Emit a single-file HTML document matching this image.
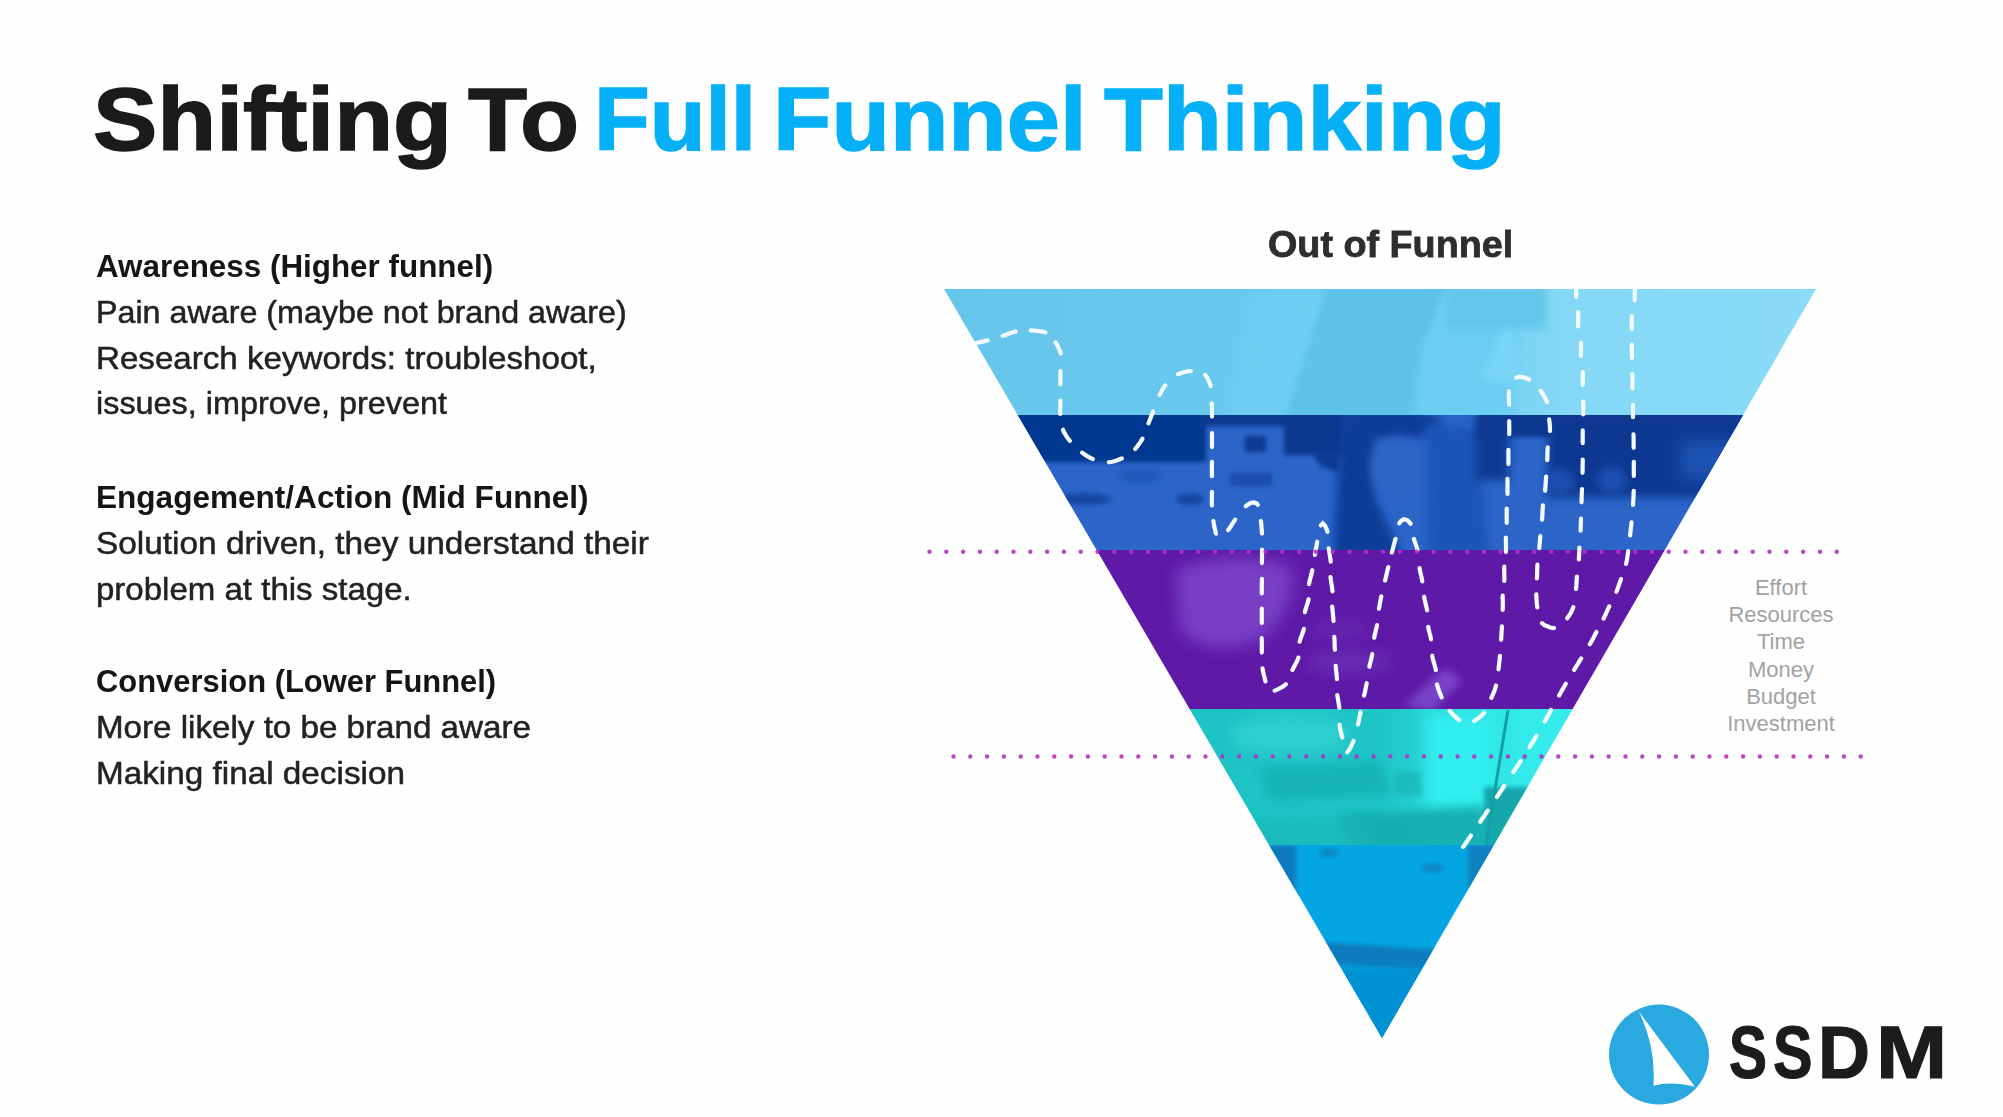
<!DOCTYPE html>
<html><head><meta charset="utf-8">
<style>
html,body{margin:0;padding:0;}
body{width:2003px;height:1117px;overflow:hidden;background:#fefefe;position:relative;font-family:"Liberation Sans",sans-serif;}
.t{position:absolute;white-space:nowrap;line-height:1;transform-origin:0 0;}
.title{font-weight:bold;font-size:89px;top:75px;color:#1b1b1b;-webkit-text-stroke:1.5px #1b1b1b;}
.blue{color:#06b0f7;-webkit-text-stroke:1.5px #06b0f7;}
.h{font-weight:bold;font-size:32px;color:#151515;}
.p{font-size:32px;color:#222;-webkit-text-stroke:0.5px #222;}
.side{position:absolute;left:1681px;width:200px;text-align:center;font-size:22px;line-height:27.2px;color:#a2a2a2;top:574px;}
svg{position:absolute;left:0;top:0;}
.ssdm{top:1015px;font-weight:bold;font-size:75px;color:#1c1c1c;-webkit-text-stroke:1.2px #1c1c1c;}
</style></head>
<body>
<div class="t title" style="left:92.5px;transform:scaleX(1.084);">Shifting</div>
<div class="t title" style="left:468px;transform:scaleX(1.087);">To</div>
<div class="t title blue" style="left:594px;transform:scaleX(1.025);">Full</div>
<div class="t title blue" style="left:773px;transform:scaleX(1.075);">Funnel</div>
<div class="t title blue" style="left:1104px;transform:scaleX(1.083);">Thinking</div>

<div class="t h" style="left:96px;top:250px;transform:scaleX(0.981);">Awareness (Higher funnel)</div>
<div class="t p" style="left:96px;top:296px;transform:scaleX(1.008);">Pain aware (maybe not brand aware)</div>
<div class="t p" style="left:96px;top:342px;transform:scaleX(1.035);">Research keywords: troubleshoot,</div>
<div class="t p" style="left:96px;top:387px;transform:scaleX(1.012);">issues, improve, prevent</div>
<div class="t h" style="left:96px;top:481px;transform:scaleX(0.986);">Engagement/Action (Mid Funnel)</div>
<div class="t p" style="left:96px;top:527px;transform:scaleX(1.043);">Solution driven, they understand their</div>
<div class="t p" style="left:96px;top:573px;transform:scaleX(1.032);">problem at this stage.</div>
<div class="t h" style="left:96px;top:665px;transform:scaleX(0.966);">Conversion (Lower Funnel)</div>
<div class="t p" style="left:96px;top:711px;transform:scaleX(1.036);">More likely to be brand aware</div>
<div class="t p" style="left:96px;top:757px;transform:scaleX(1.04);">Making final decision</div>

<div class="t" style="left:1268px;top:226px;font-weight:bold;font-size:37px;color:#2e2e2e;-webkit-text-stroke:0.8px #2e2e2e;transform:scaleX(1.02);">Out of Funnel</div>

<div class="side">Effort<br>Resources<br>Time<br>Money<br>Budget<br>Investment</div>

<svg width="2003" height="1117" viewBox="0 0 2003 1117">
  <defs>
    <clipPath id="tri"><polygon points="944,289 1816,289 1382,1038"/></clipPath>
    <clipPath id="b1"><rect x="900" y="289" width="950" height="126"/></clipPath>
    <clipPath id="b2"><rect x="900" y="415" width="950" height="135"/></clipPath>
    <clipPath id="b3"><rect x="900" y="550" width="950" height="159"/></clipPath>
    <clipPath id="b4"><rect x="900" y="709" width="950" height="136"/></clipPath>
    <clipPath id="b5"><rect x="900" y="845" width="950" height="200"/></clipPath>
    <filter id="bl4" x="-50%" y="-50%" width="200%" height="200%"><feGaussianBlur stdDeviation="4"/></filter>
    <filter id="bl8" x="-50%" y="-50%" width="200%" height="200%"><feGaussianBlur stdDeviation="8"/></filter>
    <filter id="bl2" x="-50%" y="-50%" width="200%" height="200%"><feGaussianBlur stdDeviation="2"/></filter>
    <linearGradient id="g1" x1="0" x2="1" y1="0" y2="0">
      <stop offset="0" stop-color="#66c5ea"/><stop offset="0.55" stop-color="#6acaee"/><stop offset="0.7" stop-color="#84d8f6"/><stop offset="1" stop-color="#8adcf8"/>
    </linearGradient>
    <linearGradient id="g4" x1="0" x2="1" y1="0" y2="0">
      <stop offset="0" stop-color="#1cc0c2"/><stop offset="0.5" stop-color="#1ec4c6"/><stop offset="0.58" stop-color="#2ad8da"/><stop offset="0.66" stop-color="#34eaea"/><stop offset="1" stop-color="#34eaea"/>
    </linearGradient>
  </defs>
  <g clip-path="url(#tri)">
    <!-- band 1 light blue -->
    <g clip-path="url(#b1)">
      <rect x="900" y="289" width="950" height="126" fill="url(#g1)"/>
      <polygon points="1250,289 1330,289 1288,415 1225,415" fill="#72cff2" filter="url(#bl8)" opacity="0.7"/>
      <polygon points="1328,287 1446,287 1422,352 1420,417 1286,417" fill="#5ec2e8" filter="url(#bl2)"/>
      <polygon points="1422,352 1446,300 1520,300 1514,417 1412,417" fill="#6ccdf0" filter="url(#bl4)"/>
      <polygon points="1482,378 1512,305 1518,385" fill="#7ad6f6" filter="url(#bl4)"/>
      <rect x="1446" y="287" width="100" height="42" fill="#62c6ea" filter="url(#bl4)"/>
    </g>
    <!-- band 2 dark blue -->
    <g clip-path="url(#b2)">
      <rect x="900" y="415" width="950" height="135" fill="#2c64c8"/>
      <rect x="990" y="410" width="216" height="52" fill="#06378f" filter="url(#bl2)"/>
      <rect x="1200" y="410" width="90" height="16" fill="#08388f" filter="url(#bl2)"/>
      <rect x="1245" y="436" width="21" height="16" fill="#0a3a94" filter="url(#bl2)"/>
      <rect x="1284" y="410" width="60" height="45" fill="#08388f" filter="url(#bl2)"/>
      <polygon points="1312,452 1342,452 1338,472 1320,466" fill="#0a3a94" filter="url(#bl2)"/>
      <rect x="1230" y="473" width="42" height="13" fill="#1c4eae" filter="url(#bl2)"/>
      <ellipse cx="1085" cy="499" rx="26" ry="6" fill="#1446a4" filter="url(#bl2)"/>
      <ellipse cx="1190" cy="499" rx="14" ry="6" fill="#1446a4" filter="url(#bl2)"/>
      <rect x="1120" y="470" width="40" height="12" fill="#2458bb" filter="url(#bl2)"/>
      <polygon points="1340,412 1374,412 1374,495 1402,556 1334,556" fill="#0c3c9a" filter="url(#bl4)"/>
      <ellipse cx="1392" cy="424" rx="50" ry="16" fill="#0c3c9a" filter="url(#bl4)"/>
      <ellipse cx="1398" cy="467" rx="27" ry="31" fill="#2d63c6" filter="url(#bl4)"/>
      <polygon points="1426,423 1480,430 1488,556 1428,556" fill="#1f55b8" filter="url(#bl4)"/>
      <rect x="1478" y="410" width="270" height="27" fill="#08388f" filter="url(#bl2)"/>
      <rect x="1475" y="416" width="34" height="64" fill="#0a3a94" filter="url(#bl4)"/>
      <rect x="1548" y="413" width="200" height="84" fill="#083891" filter="url(#bl4)"/>
      <ellipse cx="1560" cy="482" rx="14" ry="13" fill="#1c50b2" filter="url(#bl4)"/>
      <ellipse cx="1612" cy="480" rx="14" ry="13" fill="#1c50b2" filter="url(#bl4)"/>
      <rect x="1680" y="440" width="60" height="40" fill="#1c52b4" filter="url(#bl8)"/>
    </g>
    <!-- band 3 purple -->
    <g clip-path="url(#b3)">
      <rect x="900" y="550" width="950" height="159" fill="#5e19a7"/>
      <path d="M1175,570 Q1230,548 1290,565 Q1300,610 1260,640 Q1210,660 1180,630 Z" fill="#7842c6" filter="url(#bl8)" opacity="0.95"/>
      <polygon points="1405,705 1445,668 1462,680 1432,712" fill="#8050d0" filter="url(#bl4)" opacity="0.8"/>
      <ellipse cx="1350" cy="662" rx="45" ry="10" fill="#6c34b8" filter="url(#bl8)" opacity="0.8"/>
      <ellipse cx="1340" cy="630" rx="30" ry="8" fill="#6c34b8" filter="url(#bl8)" opacity="0.6"/>
    </g>
    <!-- band 4 teal -->
    <g clip-path="url(#b4)">
      <rect x="900" y="709" width="950" height="136" fill="url(#g4)"/>
      <ellipse cx="1290" cy="735" rx="60" ry="20" fill="#34d2d4" filter="url(#bl8)" opacity="0.8"/>
      <rect x="1425" y="711" width="70" height="100" fill="#32eeee" filter="url(#bl8)"/>
      <polygon points="1260,768 1380,762 1392,795 1270,800" fill="#18b0b2" filter="url(#bl4)" opacity="0.8"/>
      <polygon points="1395,770 1420,772 1422,795 1395,795" fill="#1ab8ba" filter="url(#bl2)" opacity="0.8"/>
      <polygon points="1338,815 1484,806 1490,850 1350,850" fill="#16acae" filter="url(#bl4)" opacity="0.9"/>
      <rect x="1150" y="822" width="220" height="30" fill="#1db6b8" filter="url(#bl8)" opacity="0.7"/>
      <rect x="1484" y="787" width="60" height="62" fill="#14a4aa" filter="url(#bl2)" opacity="0.95"/>
      <line x1="1508" y1="710" x2="1486" y2="845" stroke="#10a0a6" stroke-width="3"/>
    </g>
    <!-- band 5 blue -->
    <g clip-path="url(#b5)">
      <rect x="900" y="845" width="950" height="200" fill="#04a6e2"/>
      <rect x="1240" y="845" width="56" height="50" fill="#0a7abd" filter="url(#bl2)"/>
      <rect x="1468" y="845" width="60" height="50" fill="#0a80c2" filter="url(#bl2)"/>
      <polygon points="1320,942 1440,950 1440,972 1320,964" fill="#0a7cbe" filter="url(#bl2)"/>
      <rect x="1320" y="968" width="120" height="80" fill="#0592d2" filter="url(#bl4)"/>
      <ellipse cx="1329" cy="853" rx="10" ry="4" fill="#0a84c4" filter="url(#bl2)"/>
      <ellipse cx="1433" cy="868" rx="12" ry="4" fill="#0a84c4" filter="url(#bl2)"/>
    </g>
    <!-- dashed path -->
    <path id="dashes" d="M962.0,346.2 L965.0,345.5 L968.1,344.8 L971.2,344.1 L974.3,343.4 L977.3,342.8 L980.3,342.1 L983.4,341.4 L986.5,340.6 L987.5,340.4 M1002.7,335.9 L1005.5,334.9 L1008.5,333.8 L1011.4,332.7 L1014.3,331.8 L1015.7,331.4 M1030.8,330.3 L1033.9,330.5 L1037.1,330.8 L1040.3,331.2 L1043.3,331.8 L1045.3,332.4 M1055.5,342.4 L1057.2,345.1 L1058.6,347.8 L1059.9,350.7 L1060.7,353.4 M1060.4,371.1 L1060.4,374.2 L1060.4,377.2 L1060.4,380.2 L1060.4,383.4 L1060.4,384.4 M1060.4,400.7 L1060.3,403.7 L1060.3,406.8 L1060.2,409.9 L1060.3,412.9 L1060.3,413.9 M1063.0,429.8 L1064.3,432.7 L1065.9,435.3 L1067.6,437.9 L1069.4,440.3 L1069.9,440.9 M1082.1,452.6 L1084.6,454.4 L1087.2,456.1 L1089.8,457.6 L1092.5,458.9 L1092.8,459.0 M1108.9,462.3 L1112.1,461.8 L1115.1,461.0 L1118.0,460.0 L1120.9,458.8 L1121.8,458.4 M1135.2,448.9 L1137.2,446.6 L1139.0,444.1 L1140.7,441.6 L1142.3,438.9 L1142.4,438.7 M1148.5,423.4 L1149.6,420.4 L1150.8,417.4 L1152.0,414.4 L1153.0,411.7 M1159.7,394.9 L1161.1,392.1 L1162.6,389.3 L1164.3,386.7 L1165.3,385.4 M1178.0,374.2 L1180.8,373.1 L1183.9,372.2 L1186.9,371.5 L1189.9,371.2 L1190.7,371.1 M1205.2,374.9 L1207.1,377.4 L1208.5,380.1 L1209.7,383.1 L1210.6,386.2 M1211.7,403.4 L1211.9,406.4 L1211.9,409.5 L1212.0,412.7 L1212.0,416.1 L1212.0,416.6 M1212.0,433.0 L1212.0,436.1 L1212.0,439.4 L1212.0,442.5 L1212.0,445.7 L1212.0,447.1 M1212.0,461.9 L1211.9,465.2 L1211.9,468.3 L1211.9,471.4 L1211.9,474.6 L1211.9,476.2 M1211.9,491.9 L1211.9,495.3 L1211.9,498.6 L1211.8,501.7 L1211.8,504.8 L1211.9,505.4 M1213.4,521.1 L1213.9,524.1 L1214.4,527.1 L1215.1,530.1 L1215.8,533.1 L1216.0,533.7 M1228.2,530.0 L1230.0,527.5 L1231.6,525.0 L1233.3,522.3 L1235.1,519.6 M1245.8,506.2 L1248.2,504.3 L1251.0,502.9 L1254.1,502.5 L1256.8,503.6 L1257.8,504.8 M1260.9,521.1 L1261.3,524.1 L1261.5,527.2 L1261.8,530.2 L1261.9,533.2 L1262.0,533.5 M1262.0,549.7 L1262.0,552.8 L1262.0,555.9 L1262.0,559.0 L1261.9,562.1 L1261.9,563.1 M1261.9,578.9 L1261.9,582.0 L1261.8,585.1 L1261.8,588.2 L1261.8,591.2 L1261.8,593.4 M1261.8,608.5 L1261.8,611.5 L1261.8,614.6 L1261.8,617.7 L1261.8,620.8 L1261.8,623.0 M1261.7,638.2 L1261.8,641.4 L1261.8,644.4 L1261.8,647.5 L1261.8,650.6 L1261.8,652.6 M1262.5,668.4 L1263.1,671.5 L1263.7,674.5 L1264.5,677.6 L1265.3,680.6 L1265.5,681.3 M1274.7,690.6 L1277.7,689.4 L1280.5,688.0 L1283.2,686.4 L1285.7,684.5 L1285.9,684.3 M1292.4,669.9 L1293.8,667.3 L1295.3,664.5 L1296.7,661.8 L1297.9,659.0 L1298.4,657.6 M1299.6,641.7 L1300.5,638.5 L1301.6,635.7 L1302.7,632.7 L1303.7,629.8 L1303.9,628.9 M1304.9,612.1 L1305.6,609.2 L1306.6,606.2 L1307.5,603.3 L1308.4,600.2 L1308.6,599.2 M1309.0,584.1 L1309.6,580.9 L1310.4,577.9 L1311.2,574.9 L1311.9,571.9 L1312.3,570.2 M1314.9,555.0 L1315.4,551.8 L1315.9,548.7 L1316.5,545.7 L1317.0,542.7 L1317.2,541.7 M1320.9,525.4 L1322.8,523.3 L1324.9,525.4 L1326.3,528.3 L1327.3,531.2 L1327.5,531.8 M1328.7,548.4 L1329.2,551.4 L1329.7,554.5 L1330.2,557.6 L1330.6,560.5 L1330.7,561.7 M1330.5,577.0 L1330.9,580.3 L1331.4,583.4 L1331.9,586.5 L1332.3,589.6 L1332.5,591.3 M1332.2,606.6 L1332.5,609.8 L1332.8,612.9 L1333.1,616.1 L1333.4,619.1 L1333.5,620.8 M1334.3,636.9 L1334.5,639.9 L1334.6,642.9 L1334.7,646.0 L1334.8,649.0 L1334.9,649.7 M1335.7,665.8 L1335.9,668.8 L1336.3,671.9 L1336.6,675.0 L1336.9,678.0 L1336.9,679.2 M1337.3,695.0 L1337.8,698.2 L1338.3,701.2 L1338.8,704.2 L1339.3,707.3 L1339.3,707.8 M1339.5,724.7 L1340.0,727.7 L1340.6,730.7 L1341.3,733.6 L1342.0,736.6 L1342.3,737.5 M1347.2,752.3 L1349.2,749.8 L1350.7,747.0 L1352.1,744.1 L1353.4,741.3 L1353.5,741.0 M1358.0,724.4 L1358.7,721.4 L1359.3,718.4 L1359.9,715.5 L1360.5,712.5 L1360.6,712.0 M1364.1,695.6 L1364.8,692.6 L1365.4,689.7 L1366.0,686.7 L1366.6,683.7 L1366.7,683.2 M1369.4,666.7 L1370.0,663.8 L1370.8,660.8 L1371.5,657.9 L1372.1,654.9 L1372.2,654.2 M1374.2,637.7 L1374.8,634.8 L1375.5,631.8 L1376.2,628.9 L1376.9,625.9 L1377.0,625.2 M1379.0,608.7 L1379.5,605.7 L1380.0,602.7 L1380.6,599.7 L1381.2,596.7 L1381.3,596.5 M1385.1,580.4 L1385.8,577.5 L1386.5,574.5 L1387.2,571.5 L1387.9,568.5 L1388.3,567.1 M1391.9,552.4 L1392.7,549.3 L1393.5,546.3 L1394.3,543.3 L1395.1,540.4 L1395.5,538.9 M1399.3,523.3 L1401.1,520.9 L1403.8,519.3 L1406.8,519.9 L1409.2,522.0 L1410.5,523.8 M1413.9,539.0 L1414.9,542.0 L1416.0,545.0 L1416.9,547.9 L1417.4,549.8 M1419.6,568.1 L1420.1,571.2 L1420.8,574.1 L1421.5,577.1 L1422.1,580.2 L1422.3,581.4 M1424.1,596.7 L1424.7,599.9 L1425.4,602.9 L1426.2,605.9 L1426.8,608.9 L1427.1,610.3 M1428.2,626.8 L1428.8,629.7 L1429.5,632.7 L1430.3,635.6 L1430.9,638.6 L1431.0,639.3 M1432.2,655.7 L1432.8,658.7 L1433.6,661.7 L1434.5,664.7 L1435.3,667.7 L1435.8,670.0 M1437.0,684.4 L1437.9,687.5 L1438.9,690.5 L1440.0,693.4 L1441.2,696.3 L1441.7,697.4 M1449.7,710.9 L1451.8,713.2 L1454.0,715.4 L1456.3,717.6 L1458.7,719.6 L1459.2,720.0 M1474.3,721.0 L1476.8,719.3 L1479.4,717.4 L1481.7,715.4 L1483.9,713.1 L1484.3,712.7 M1491.4,697.9 L1492.6,695.1 L1493.9,692.3 L1495.0,689.3 L1495.8,686.1 L1496.0,685.4 M1498.5,669.3 L1498.9,666.1 L1499.2,663.0 L1499.6,659.9 L1499.8,656.9 L1499.9,655.9 M1501.1,639.7 L1501.3,636.6 L1501.5,633.5 L1501.7,630.4 L1501.9,627.4 L1501.9,626.3 M1502.7,610.0 L1502.8,606.8 L1502.8,603.7 L1502.8,600.6 L1502.6,597.5 L1502.7,595.6 M1504.3,580.9 L1504.4,577.7 L1504.3,574.5 L1504.2,571.4 L1504.2,568.3 L1504.3,566.6 M1505.9,551.9 L1506.0,548.7 L1506.0,545.5 L1505.9,542.4 L1505.9,539.3 L1505.9,537.6 M1506.7,522.9 L1506.7,519.7 L1506.7,516.5 L1506.7,513.4 L1506.7,510.3 L1506.7,508.6 M1507.5,493.9 L1507.5,490.7 L1507.5,487.6 L1507.5,484.4 L1507.5,481.2 L1507.5,478.8 M1508.4,464.1 L1508.4,460.9 L1508.4,457.8 L1508.4,454.6 L1508.4,451.6 L1508.4,449.8 M1509.2,434.2 L1509.3,431.0 L1509.3,427.9 L1509.2,424.8 L1509.2,421.7 L1509.2,421.0 M1509.2,404.7 L1509.0,401.7 L1508.8,398.6 L1508.7,395.5 L1508.9,392.3 L1509.0,391.3 M1516.3,377.7 L1519.1,376.7 L1522.1,377.1 L1525.3,377.8 L1528.2,379.1 L1529.0,379.6 M1540.7,390.8 L1542.4,393.2 L1544.0,395.8 L1545.5,398.5 L1546.7,401.3 L1547.0,402.0 M1549.2,419.3 L1549.5,422.3 L1549.8,425.3 L1550.0,428.6 L1550.0,431.1 M1547.7,447.4 L1547.5,450.4 L1547.4,453.4 L1547.4,456.5 L1547.3,459.5 L1547.2,460.0 M1546.1,476.5 L1545.9,479.5 L1545.7,482.6 L1545.5,485.7 L1545.3,488.8 L1545.1,490.7 M1542.9,505.4 L1542.7,508.6 L1542.5,511.7 L1542.4,514.8 L1542.2,517.9 L1542.1,519.6 M1540.3,536.1 L1540.0,539.1 L1539.8,542.3 L1539.5,545.6 L1539.3,548.1 M1537.4,564.7 L1537.3,567.7 L1537.2,570.8 L1537.1,573.9 L1537.0,577.0 L1536.9,578.4 M1536.3,594.3 L1536.4,597.3 L1536.6,600.4 L1536.8,603.5 L1537.2,606.5 L1537.3,607.5 M1542.0,623.2 L1544.3,625.1 L1547.3,626.3 L1550.2,627.5 L1553.4,628.1 L1554.0,628.0 M1567.2,618.2 L1569.1,615.6 L1570.7,613.0 L1572.0,610.3 L1573.2,607.3 L1573.3,607.1 M1576.0,589.0 L1576.3,585.9 L1576.5,582.7 L1576.7,579.5 L1576.9,576.7 M1578.9,559.4 L1579.0,556.3 L1579.2,553.1 L1579.3,549.9 L1579.4,547.6 M1580.6,530.6 L1580.7,527.5 L1580.8,524.3 L1580.9,521.1 L1581.0,518.5 M1581.5,502.3 L1581.6,499.2 L1581.7,496.2 L1581.8,493.1 L1581.9,490.0 L1582.0,489.0 M1582.5,472.8 L1582.6,469.6 L1582.6,466.5 L1582.7,463.5 L1582.7,460.5 L1582.7,459.5 M1582.7,443.2 L1582.7,440.2 L1582.7,437.2 L1582.7,434.1 L1582.7,430.9 L1582.7,430.4 M1583.2,414.5 L1583.3,411.3 L1583.3,408.3 L1583.3,405.2 L1583.2,402.2 L1583.2,401.7 M1582.7,385.0 L1582.7,382.0 L1582.8,378.9 L1582.8,375.9 L1582.8,372.7 L1582.8,372.2 M1580.9,356.0 L1580.8,353.0 L1580.9,349.9 L1581.0,346.8 L1581.0,343.8 L1581.0,342.8 M1578.1,326.4 L1578.1,323.4 L1578.1,320.3 L1578.2,317.2 L1578.3,314.2 L1578.2,312.2 M1576.3,297.0 L1576.2,293.8 L1576.1,290.6 L1576.1,287.4 L1576.0,284.4 L1576.0,281.2 L1576.0,280.0 M1634.6,280.0 L1634.6,283.0 L1634.7,286.2 L1634.8,289.3 L1634.8,292.6 L1634.8,295.8 L1634.7,299.0 L1634.7,300.6 M1631.9,315.8 L1631.8,318.9 L1631.7,322.0 L1631.7,325.0 L1631.7,328.3 L1631.7,329.1 M1631.8,344.5 L1631.8,347.5 L1631.8,350.7 L1631.9,353.8 L1631.9,357.0 L1631.9,357.9 M1632.4,374.1 L1632.4,377.3 L1632.4,380.4 L1632.4,383.5 L1632.4,386.6 L1632.4,388.5 M1633.0,404.9 L1633.0,408.1 L1633.0,411.4 L1633.0,414.4 L1633.0,417.2 M1633.5,434.3 L1633.6,437.5 L1633.6,440.7 L1633.6,443.7 L1633.6,446.9 L1633.7,447.7 M1633.8,461.8 L1633.8,464.9 L1633.8,468.1 L1633.8,471.1 L1633.8,474.1 L1633.8,476.0 M1633.7,490.8 L1633.6,493.9 L1633.5,497.1 L1633.3,500.2 L1633.1,503.3 L1633.0,505.0 M1631.5,522.3 L1631.2,525.5 L1630.8,528.6 L1630.5,531.6 L1630.2,534.6 L1630.1,535.4 M1628.2,551.2 L1627.8,554.4 L1627.3,557.4 L1626.8,560.4 L1626.2,563.4 L1626.1,563.9 M1621.0,579.1 L1619.9,582.2 L1618.9,585.1 L1617.9,587.9 L1616.8,590.8 L1616.4,591.9 M1609.2,606.5 L1607.9,609.2 L1606.7,612.0 L1605.4,614.8 L1604.0,617.8 L1603.6,618.6 M1596.4,632.0 L1595.0,634.7 L1593.6,637.5 L1592.0,640.4 L1590.5,643.1 L1589.8,644.3 M1581.2,658.4 L1579.6,660.9 L1578.0,663.6 L1576.3,666.3 L1574.7,668.9 L1574.2,669.8 M1565.8,683.8 L1564.3,686.4 L1562.7,689.1 L1561.2,691.7 L1559.7,694.4 L1559.1,695.5 M1551.1,709.9 L1549.6,712.7 L1548.1,715.4 L1546.6,718.1 L1545.1,720.8 L1544.7,721.5 M1536.5,735.7 L1534.9,738.5 L1533.2,741.3 L1531.6,743.9 L1530.0,746.5 L1529.6,747.2 M1520.6,761.2 L1519.0,763.7 L1517.3,766.2 L1515.5,768.9 L1513.7,771.6 L1513.3,772.2 M1504.2,785.9 L1502.5,788.6 L1500.8,791.1 L1499.1,793.7 L1497.3,796.4 L1496.8,797.0 M1487.8,810.6 L1486.0,813.2 L1484.3,815.8 L1482.6,818.3 L1480.8,820.9 L1480.2,821.8 M1471.0,835.4 L1469.3,838.0 L1467.6,840.5 L1465.7,843.3 L1464.0,845.8 L1463.0,847.0" fill="none" stroke="#f4fbff" stroke-width="4.2" stroke-linecap="round"/>
  </g>
  <!-- dotted lines -->
  <line x1="929.5" y1="551.7" x2="1840" y2="551.7" stroke="#b82ec4" stroke-opacity="0.9" stroke-width="4.4" stroke-linecap="round" stroke-dasharray="0 16.8"/>
  <line x1="953.5" y1="756.5" x2="1864" y2="756.5" stroke="#b82ec4" stroke-opacity="0.9" stroke-width="4.4" stroke-linecap="round" stroke-dasharray="0 16.8"/>
  <!-- logo -->
  <circle cx="1659" cy="1054.6" r="50" fill="#2aa8e0"/>
  <path d="M1638.7,1011.3 L1694.9,1086.7 Q1670,1081 1653.5,1085.7 Q1656,1046 1638.7,1011.3 Z" fill="#fff"/>
</svg>
<div class="t ssdm" style="left:1729px;transform:scaleX(0.76);">S</div>
<div class="t ssdm" style="left:1773px;transform:scaleX(0.79);">S</div>
<div class="t ssdm" style="left:1818px;transform:scaleX(0.96);">D</div>
<div class="t ssdm" style="left:1876px;transform:scaleX(1.14);">M</div>
</body></html>
